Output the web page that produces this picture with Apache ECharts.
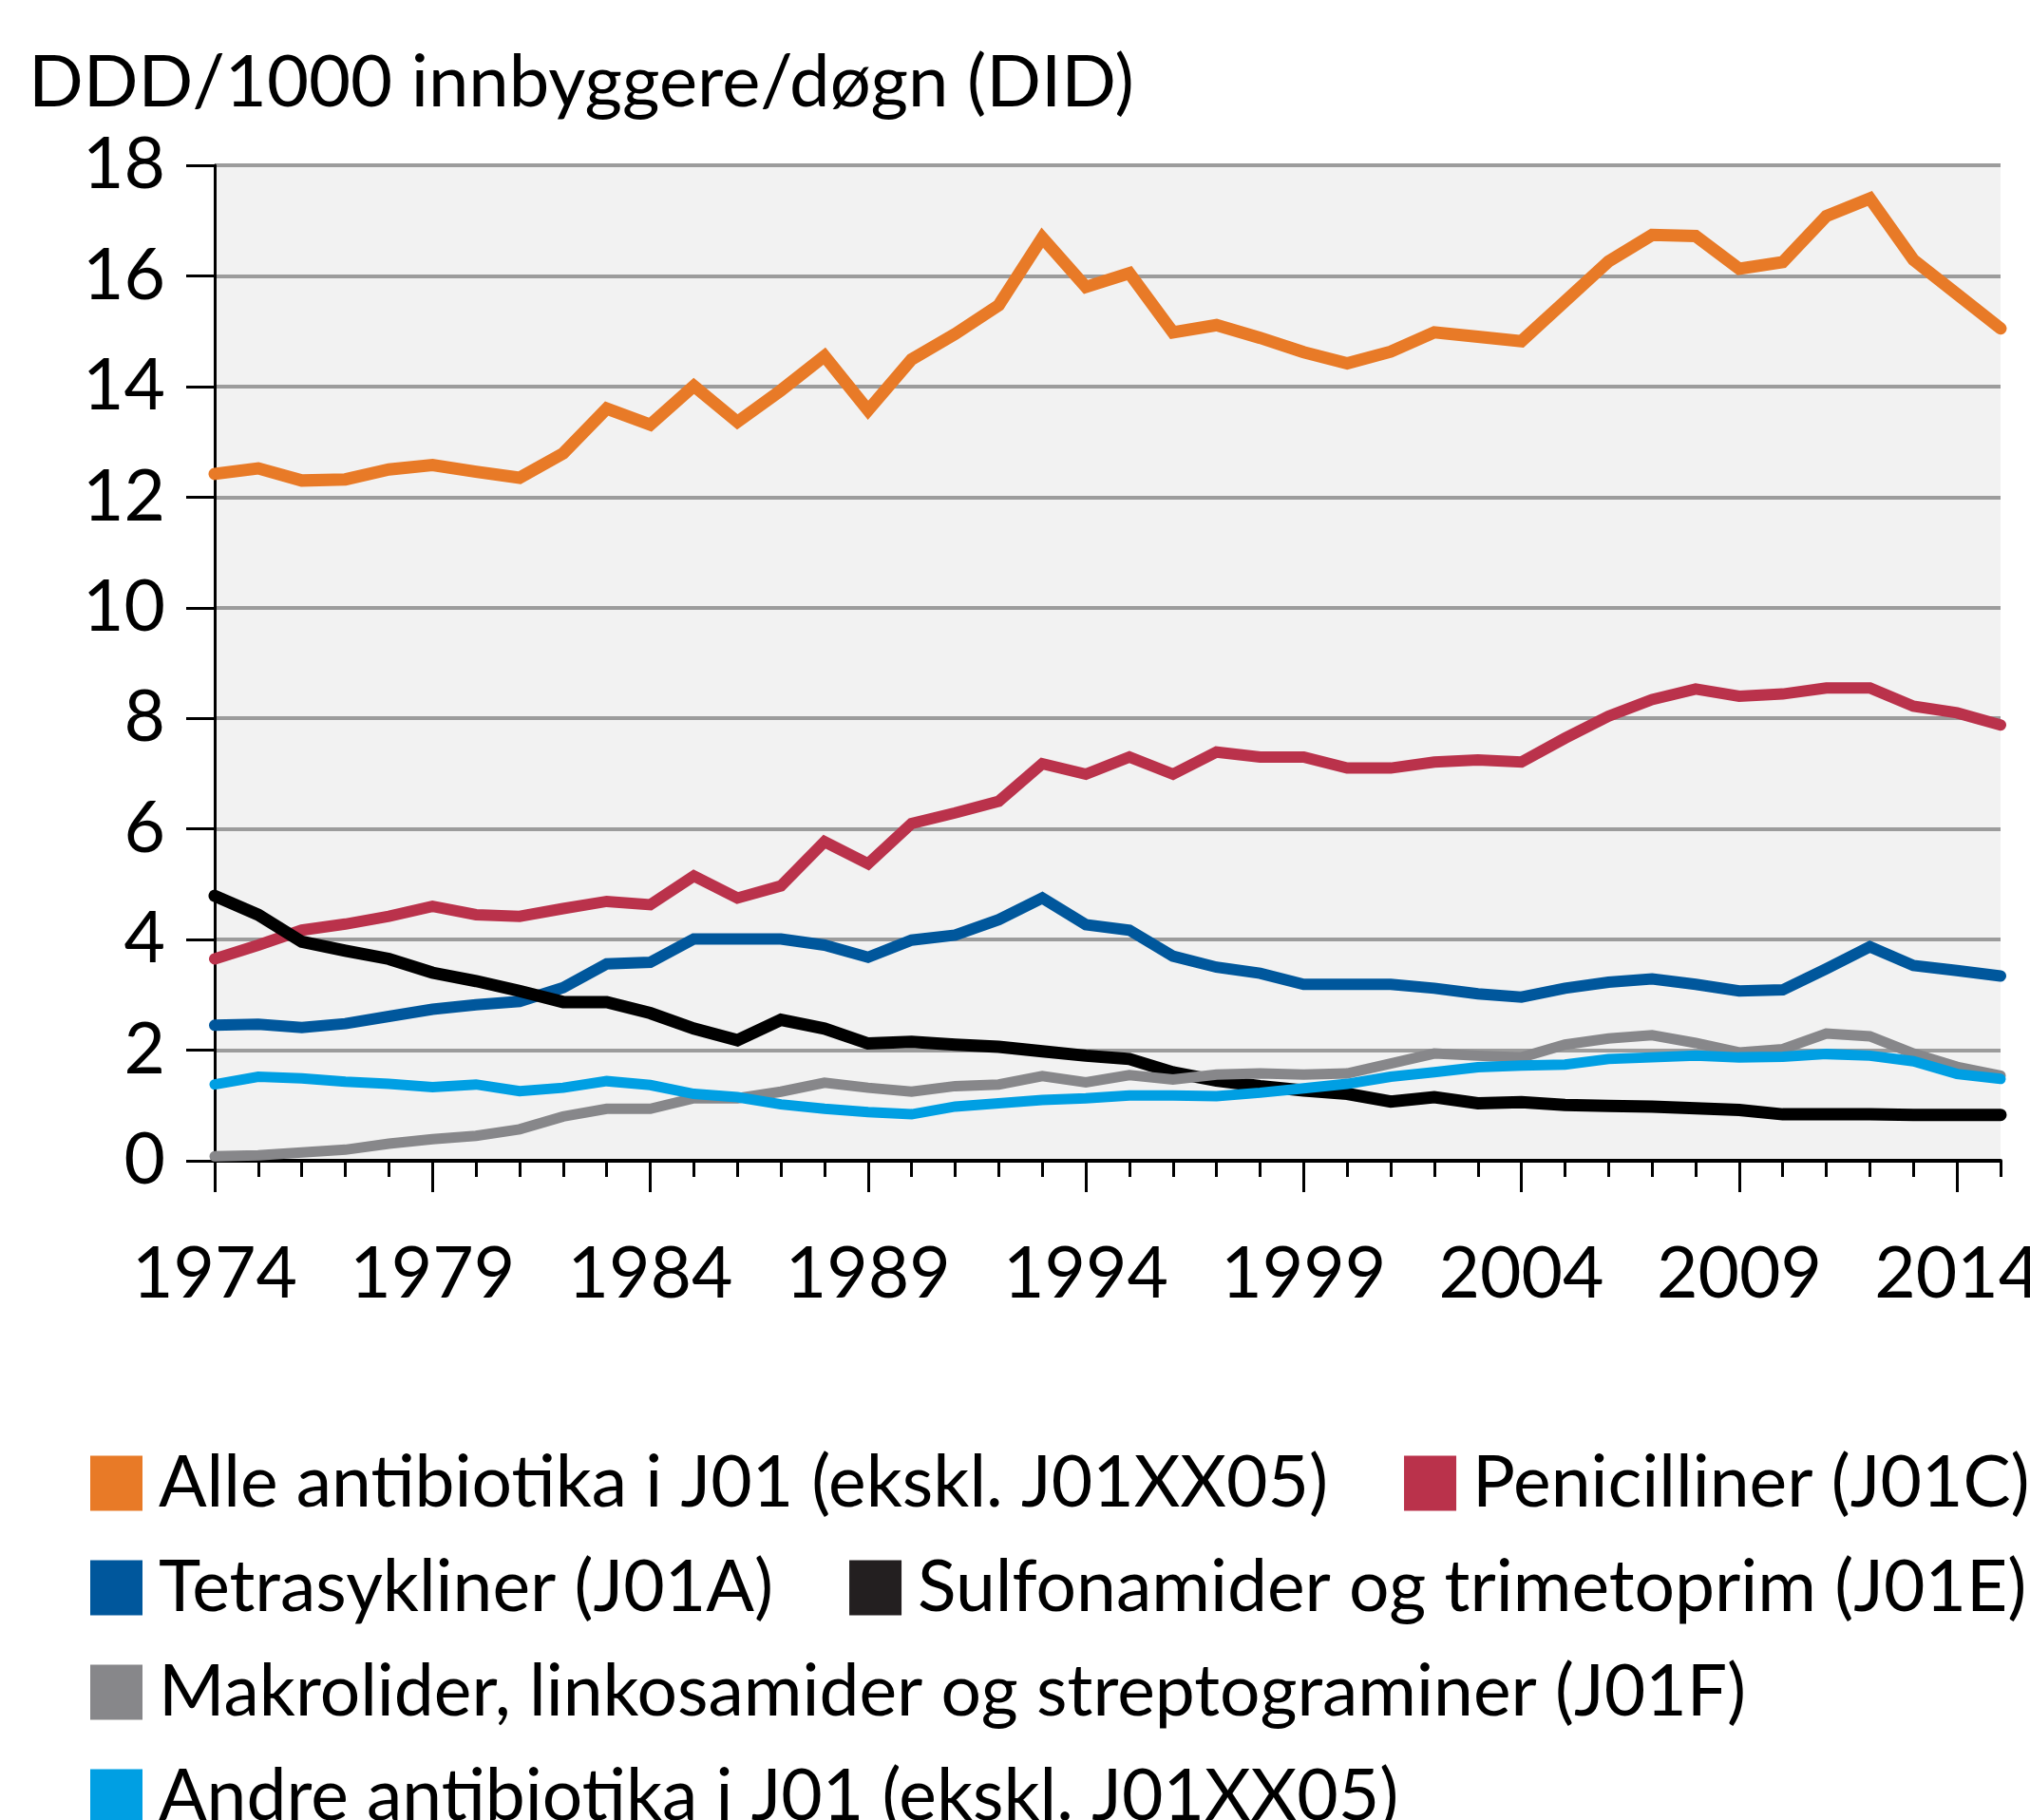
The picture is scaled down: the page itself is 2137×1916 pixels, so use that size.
<!DOCTYPE html>
<html>
<head>
<meta charset="utf-8">
<script src="https://cdn.jsdelivr.net/npm/echarts@6/dist/echarts.min.js"></script>
<style>
  html, body { margin: 0; padding: 0; background: #fff; }
  #chart { width: 2137px; height: 1916px; }
</style>
</head>
<body>
<div id="chart"></div>
<script>
const years = [];
for (let y = 1974; y <= 2015; y++) years.push(String(y));

const yTicks = [0, 2, 4, 6, 8, 10, 12, 14, 16, 18];

const names = [
  'Alle antibiotika i J01 (ekskl. J01XX05)',
  'Penicilliner (J01C)',
  'Tetrasykliner (J01A)',
  'Sulfonamider og trimetoprim (J01E)',
  'Makrolider, linkosamider og streptograminer (J01F)',
  'Andre antibiotika i J01 (ekskl. J01XX05)',
];

const colors = ['#e87a27', '#ba324b', '#00579c', '#000000', '#87878a', '#009fe3'];

const alle = [12.42, 12.52, 12.30, 12.32, 12.50, 12.58, 12.46, 12.35, 12.79, 13.60,
  13.31, 14.01, 13.36, 13.93, 14.55, 13.57, 14.49, 14.95, 15.47, 16.69,
  15.80, 16.05, 14.98, 15.11, 14.88, 14.62, 14.42, 14.63, 14.98, 14.90,
  14.82, 15.54, 16.26, 16.74, 16.72, 16.13, 16.25, 17.08, 17.40, 16.29,
  15.67, 15.05];

const penicilliner = [3.65, 3.90, 4.17, 4.28, 4.42, 4.60, 4.45, 4.42, 4.56, 4.69,
  4.63, 5.15, 4.75, 4.97, 5.77, 5.37, 6.10, 6.29, 6.50, 7.18,
  6.99, 7.30, 6.99, 7.39, 7.30, 7.30, 7.10, 7.10, 7.21, 7.25,
  7.21, 7.64, 8.04, 8.34, 8.53, 8.40, 8.44, 8.55, 8.55, 8.22,
  8.10, 7.88];

const tetrasykliner = [2.45, 2.47, 2.41, 2.48, 2.61, 2.74, 2.82, 2.88, 3.13, 3.56,
  3.59, 4.01, 4.01, 4.01, 3.90, 3.68, 3.99, 4.08, 4.36, 4.75,
  4.27, 4.17, 3.70, 3.50, 3.39, 3.19, 3.19, 3.19, 3.12, 3.02,
  2.96, 3.12, 3.23, 3.29, 3.19, 3.07, 3.09, 3.47, 3.87, 3.53,
  3.44, 3.34];

const sulfonamider = [4.79, 4.45, 3.96, 3.80, 3.65, 3.40, 3.25, 3.07, 2.87, 2.87,
  2.67, 2.39, 2.18, 2.55, 2.39, 2.12, 2.15, 2.10, 2.06, 1.98,
  1.90, 1.84, 1.60, 1.45, 1.35, 1.27, 1.21, 1.07, 1.15, 1.04,
  1.06, 1.01, 0.99, 0.98, 0.95, 0.92, 0.84, 0.84, 0.84, 0.83,
  0.83, 0.83];

const makrolider = [0.08, 0.10, 0.15, 0.20, 0.31, 0.39, 0.45, 0.57, 0.80, 0.94,
  0.94, 1.13, 1.13, 1.25, 1.41, 1.32, 1.25, 1.35, 1.38, 1.53,
  1.42, 1.55, 1.47, 1.56, 1.58, 1.56, 1.58, 1.76, 1.94, 1.90,
  1.87, 2.10, 2.21, 2.27, 2.13, 1.96, 2.02, 2.30, 2.25, 1.94,
  1.70, 1.54];

const andre = [1.38, 1.52, 1.49, 1.43, 1.39, 1.33, 1.38, 1.26, 1.32, 1.44,
  1.37, 1.21, 1.15, 1.02, 0.94, 0.88, 0.84, 0.98, 1.04, 1.10,
  1.13, 1.18, 1.18, 1.17, 1.23, 1.31, 1.39, 1.52, 1.60, 1.69,
  1.72, 1.74, 1.84, 1.87, 1.90, 1.87, 1.88, 1.93, 1.90, 1.80,
  1.57, 1.48];

const values = [alle, penicilliner, tetrasykliner, sulfonamider, makrolider, andre];
const widths = [13, 12, 12, 13, 11, 11];

const font = 'Lato';
const fs = 75;

const chart = echarts.init(document.getElementById('chart'));

const legendRows = [
  { top: 1524, data: [names[0], names[1]] },
  { top: 1634, data: [names[2], names[3]] },
  { top: 1744, data: [names[4]] },
  { top: 1854, data: [names[5]] },
];

chart.setOption({
  animation: false,
  color: colors,
  textStyle: { fontFamily: font },
  title: {
    text: 'DDD/1000 innbyggere/døgn (DID)',
    left: 30,
    top: 49,
    padding: 0,
    textStyle: { fontFamily: font, fontSize: 76, fontWeight: 'normal', color: '#000' },
  },
  legend: legendRows.map((r) => ({
    left: 95,
    top: r.top,
    width: 4000,
    padding: 0,
    itemGap: 80,
    itemWidth: 55,
    itemHeight: 58,
    icon: 'rect',
    data: r.data,
    selectedMode: false,
    textStyle: { fontFamily: font, fontSize: fs, color: '#000', padding: [0, 0, 0, 12] },
  })),
  grid: {
    left: 226,
    right: 31,
    top: 174,
    bottom: 694,
    outerBoundsMode: 'none',
    show: true,
    backgroundColor: '#f2f2f2',
    borderWidth: 0,
  },
  xAxis: [
    {
      type: 'category',
      data: years,
      boundaryGap: false,
      axisLine: { lineStyle: { color: '#000', width: 4 } },
      axisTick: { interval: 0, length: 17, lineStyle: { color: '#000', width: 3 } },
      axisLabel: { interval: 4, margin: 82, fontSize: fs, fontFamily: font, color: '#000' },
      splitLine: { show: false },
    },
    {
      type: 'category',
      data: years,
      position: 'bottom',
      boundaryGap: false,
      axisLine: { show: false },
      axisTick: { interval: 4, length: 33, lineStyle: { color: '#000', width: 3 } },
      axisLabel: { show: false },
      splitLine: { show: false },
    },
  ],
  yAxis: {
    type: 'value',
    min: yTicks[0],
    max: yTicks[yTicks.length - 1],
    interval: 2,
    axisLine: { show: true, lineStyle: { color: '#000', width: 3 } },
    axisTick: { show: true, length: 30, lineStyle: { color: '#000', width: 3 } },
    axisLabel: { margin: 52, fontSize: fs, fontFamily: font, color: '#000' },
    splitLine: { lineStyle: { color: '#9c9c9c', width: 4 } },
  },
  series: names.map((n, i) => ({
    name: n,
    type: 'line',
    xAxisIndex: 0,
    data: values[i],
    symbol: 'none',
    lineStyle: { width: widths[i], color: colors[i], cap: 'round', join: 'miter' },
    itemStyle: { color: i === 3 ? '#231f20' : colors[i] },
  })),
});
</script>
</body>
</html>
